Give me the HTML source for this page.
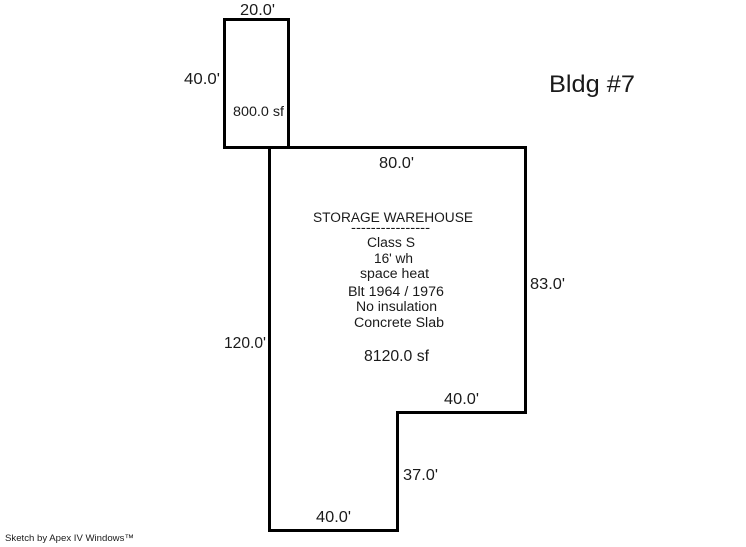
<!DOCTYPE html>
<html>
<head>
<meta charset="utf-8">
<style>
html,body{margin:0;padding:0;background:#fff;width:746px;height:547px;overflow:hidden}
svg{display:block}
text{font-family:"Liberation Sans",sans-serif;fill:#1a1a1a}
.a{font-size:15.5px}
.c{font-size:14.2px}
.b{font-size:14px}
</style>
</head>
<body>
<svg width="746" height="547" viewBox="0 0 746 547" xmlns="http://www.w3.org/2000/svg">
<rect width="746" height="547" fill="#fff"/>
<g fill="none" stroke="#000" stroke-width="3" stroke-linecap="square" stroke-linejoin="miter">
<path d="M224.5 19.5H288.5V147.5H224.5Z"/>
<path d="M269.5 147.5H525.5V412.5H397.5V530.5H269.5Z"/>
</g>
<g lengthAdjust="spacingAndGlyphs">
<text class="a" x="240" y="15" textLength="35" lengthAdjust="spacingAndGlyphs">20.0'</text>
<text class="a" x="184" y="84" textLength="36" lengthAdjust="spacingAndGlyphs">40.0'</text>
<text class="b" x="233" y="116" textLength="51" lengthAdjust="spacingAndGlyphs">800.0 sf</text>
<text class="a" x="379" y="168" textLength="35" lengthAdjust="spacingAndGlyphs">80.0'</text>
<text class="a" x="530" y="289" textLength="35" lengthAdjust="spacingAndGlyphs">83.0'</text>
<text class="a" x="224" y="348" textLength="42" lengthAdjust="spacingAndGlyphs">120.0'</text>
<text class="a" x="444" y="404" textLength="35" lengthAdjust="spacingAndGlyphs">40.0'</text>
<text class="a" x="403" y="480" textLength="35" lengthAdjust="spacingAndGlyphs">37.0'</text>
<text class="a" x="316" y="522" textLength="35" lengthAdjust="spacingAndGlyphs">40.0'</text>
<text x="549" y="92" style="font-size:24.5px" textLength="86" lengthAdjust="spacingAndGlyphs">Bldg #7</text>
<text class="c" x="313" y="222" textLength="160" lengthAdjust="spacingAndGlyphs">STORAGE WAREHOUSE</text>
<text class="b" x="351" y="232" textLength="79" lengthAdjust="spacingAndGlyphs">----------------</text>
<text class="c" x="367" y="247" textLength="48" lengthAdjust="spacingAndGlyphs">Class S</text>
<text class="c" x="374" y="263" textLength="39" lengthAdjust="spacingAndGlyphs">16' wh</text>
<text class="c" x="360" y="278" textLength="69" lengthAdjust="spacingAndGlyphs">space heat</text>
<text class="c" x="348" y="296" textLength="96" lengthAdjust="spacingAndGlyphs">Blt 1964 / 1976</text>
<text class="c" x="356" y="311" textLength="81" lengthAdjust="spacingAndGlyphs">No insulation</text>
<text class="c" x="354" y="327" textLength="90" lengthAdjust="spacingAndGlyphs">Concrete Slab</text>
<text class="a" x="364" y="361" textLength="65" lengthAdjust="spacingAndGlyphs">8120.0 sf</text>
<text x="5" y="541" style="font-size:9.5px" textLength="129" lengthAdjust="spacingAndGlyphs">Sketch by Apex IV Windows™</text>
</g>
</svg>
</body>
</html>
